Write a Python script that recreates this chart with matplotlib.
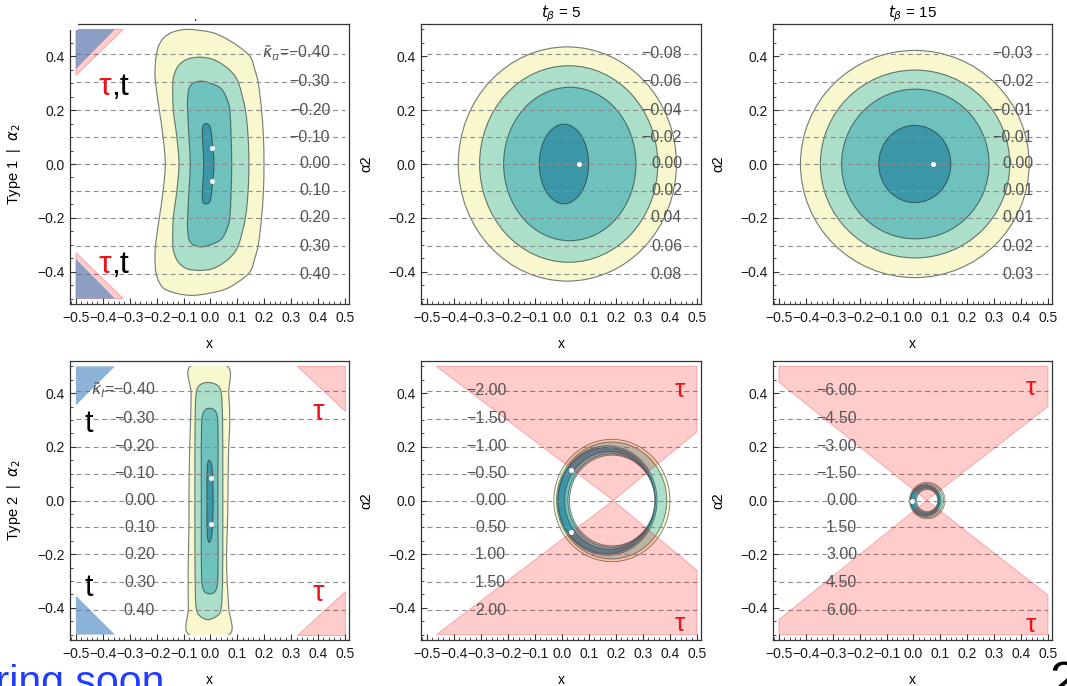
import matplotlib
matplotlib.use("Agg")
import matplotlib.pyplot as plt
import numpy as np
from matplotlib.path import Path
from matplotlib.patches import PathPatch, Ellipse, Polygon, Rectangle
from matplotlib.ticker import FixedLocator, MultipleLocator

plt.rcParams['font.family'] = ['Liberation Sans', 'DejaVu Sans']
plt.rcParams['mathtext.fontset'] = 'dejavusans'

W, H = 1067, 686

# ---- data ----
x_ticks = [-0.5, -0.4, -0.3, -0.2, -0.1, 0.0, 0.1, 0.2, 0.3, 0.4, 0.5]
x_tick_labels = ["\u22120.5", "\u22120.4", "\u22120.3", "\u22120.2", "\u22120.1", "0.0",
                 "0.1", "0.2", "0.3", "0.4", "0.5"]
y_ticks = [-0.4, -0.2, 0.0, 0.2, 0.4]
y_tick_labels = ["\u22120.4", "\u22120.2", "0.0", "0.2", "0.4"]

# dashed lines + coupling labels
level_y = [0.41, 0.305, 0.2, 0.1, 0.0, -0.1, -0.2, -0.305, -0.41]
labels_p1 = ["$\\tilde{\\kappa}_u$=\u22120.40", "\u22120.30", "\u22120.20", "\u22120.10", "0.00",
             "0.10", "0.20", "0.30", "0.40"]
labels_p2 = ["\u22120.08", "\u22120.06", "\u22120.04", "\u22120.02", "0.00", "0.02", "0.04", "0.06", "0.08"]
labels_p3 = ["\u22120.03", "\u22120.02", "\u22120.01", "\u22120.01", "0.00", "0.01", "0.01", "0.02", "0.03"]
labels_p4 = ["$\\tilde{\\kappa}_l$=\u22120.40", "\u22120.30", "\u22120.20", "\u22120.10", "0.00",
             "0.10", "0.20", "0.30", "0.40"]
labels_p5 = ["\u22122.00", "\u22121.50", "\u22121.00", "\u22120.50", "0.00", "0.50", "1.00", "1.50", "2.00"]
labels_p6 = ["\u22126.00", "\u22124.50", "\u22123.00", "\u22121.50", "0.00", "1.50", "3.00", "4.50", "6.00"]

# panel 1 (Type 1, tb=1) contour outlines: y, left x, right x
p1_y = [[0.50, 0.49, 0.47, 0.44, 0.40, 0.35, 0.30, 0.20, 0.10, 0.00, -0.10, -0.20, -0.30, -0.35, -0.40, -0.44, -0.47, -0.488],
        [0.397, 0.39, 0.37, 0.34, 0.30, 0.20, 0.10, 0.0, -0.10, -0.20, -0.30, -0.34, -0.37, -0.39, -0.395],
        [0.308, 0.30, 0.28, 0.24, 0.20, 0.10, 0.0, -0.10, -0.20, -0.24, -0.28, -0.30, -0.308],
        [0.15, 0.14, 0.10, 0.0, -0.10, -0.14, -0.148]]
p1_xl = [[-0.085, -0.14, -0.172, -0.192, -0.202, -0.206, -0.204, -0.19, -0.176, -0.168, -0.176, -0.19, -0.204, -0.206, -0.203, -0.19, -0.16, -0.07],
         [-0.04, -0.085, -0.115, -0.132, -0.14, -0.138, -0.125, -0.117, -0.125, -0.138, -0.14, -0.132, -0.115, -0.085, -0.04],
         [-0.035, -0.065, -0.08, -0.085, -0.085, -0.08, -0.075, -0.08, -0.085, -0.085, -0.08, -0.065, -0.035],
         [-0.017, -0.028, -0.030, -0.025, -0.030, -0.028, -0.017]]
p1_xr = [[-0.085, 0.0, 0.05, 0.10, 0.147, 0.165, 0.178, 0.19, 0.197, 0.199, 0.197, 0.19, 0.178, 0.165, 0.147, 0.10, 0.04, -0.07],
         [-0.04, 0.005, 0.045, 0.08, 0.105, 0.13, 0.14, 0.143, 0.14, 0.13, 0.105, 0.08, 0.045, 0.005, -0.04],
         [-0.035, 0.0, 0.04, 0.062, 0.072, 0.077, 0.079, 0.077, 0.072, 0.062, 0.04, 0.0, -0.035],
         [-0.017, -0.002, 0.005, 0.013, 0.005, -0.002, -0.017]]
p1_dots_x = [0.007, 0.007]
p1_dots_y = [0.06, -0.063]

# panel 4 (Type 2, tb=1) contour outlines
p4_y = [[0.50, 0.40, 0.30, 0.20, 0.10, 0.0, -0.10, -0.20, -0.30, -0.40, -0.50],
        [0.44, 0.43, 0.40, 0.30, 0.10, 0.0, -0.10, -0.30, -0.40, -0.43, -0.444],
        [0.344, 0.33, 0.28, 0.10, 0.0, -0.10, -0.28, -0.335, -0.348],
        [0.15, 0.12, 0.0, -0.12, -0.156]]
p4_xl = [[-0.075, -0.072, -0.074, -0.077, -0.079, -0.080, -0.080, -0.082, -0.083, -0.082, -0.080],
         [-0.01, -0.04, -0.053, -0.057, -0.058, -0.058, -0.058, -0.057, -0.053, -0.04, -0.01],
         [-0.003, -0.025, -0.033, -0.034, -0.034, -0.034, -0.033, -0.025, -0.003],
         [-0.005, -0.012, -0.013, -0.012, -0.005]]
p4_xr = [[0.063, 0.068, 0.072, 0.068, 0.066, 0.065, 0.063, 0.060, 0.062, 0.068, 0.070],
         [-0.01, 0.025, 0.04, 0.045, 0.046, 0.046, 0.046, 0.045, 0.04, 0.025, -0.01],
         [-0.003, 0.02, 0.028, 0.028, 0.028, 0.028, 0.028, 0.02, -0.003],
         [-0.005, 0.006, 0.010, 0.006, -0.005]]
p4_dots_x = [0.003, 0.003]
p4_dots_y = [0.085, -0.086]

# panels 2 and 3: elliptic contours (centre x, half width, half height)
p2_cx = [0.02, 0.025, 0.029, 0.0075]
p2_hw = [0.404, 0.33, 0.245, 0.0915]
p2_hh = [0.435, 0.365, 0.285, 0.148]
p2_dots_x, p2_dots_y = [0.063], [0.0]
p3_cx = [0.005, 0.006, 0.007, 0.005]
p3_hw = [0.425, 0.352, 0.274, 0.134]
p3_hh = [0.422, 0.349, 0.278, 0.1435]
p3_dots_x, p3_dots_y = [0.074], [0.0]

# panels 5 and 6: thin rings, bands from outside in
ring_colors_idx = [0, 1, 2, 3, 2, 1, 4]
p5_cx = [0.185, 0.184, 0.168, 0.166, 0.176, 0.182, 0.186]
p5_hw = [0.215, 0.204, 0.184, 0.180, 0.166, 0.160, 0.158]
p5_hh = [0.228, 0.218, 0.204, 0.198, 0.182, 0.174, 0.169]
p5_dots_x, p5_dots_y = [0.033, 0.033], [0.115, -0.117]
p6_cx = [0.051, 0.050, 0.046, 0.044, 0.048, 0.050, 0.051]
p6_hw = [0.066, 0.062, 0.057, 0.054, 0.046, 0.042, 0.039]
p6_hh = [0.068, 0.064, 0.059, 0.056, 0.048, 0.044, 0.041]
p6_dots_x, p6_dots_y = [-0.006], [0.0]

# excluded regions (tau = pink, top = blue)
p1_pink = [([-0.5, -0.324, -0.5], [0.5, 0.5, 0.329]), ([-0.5, -0.324, -0.5], [-0.5, -0.5, -0.329])]
p1_blue = [([-0.5, -0.355, -0.5], [0.5, 0.5, 0.353]), ([-0.5, -0.355, -0.5], [-0.5, -0.5, -0.353])]
p4_pink = [([0.32, 0.5, 0.5], [0.5, 0.5, 0.335]), ([0.32, 0.5, 0.5], [-0.5, -0.5, -0.338])]
p4_blue = [([-0.5, -0.355, -0.5], [0.5, 0.5, 0.355]), ([-0.5, -0.355, -0.5], [-0.5, -0.5, -0.355])]
p5_pink = [([-0.465, 0.5, 0.5, 0.19], [0.5, 0.5, 0.256, 0.0]),
           ([-0.465, 0.5, 0.5, 0.19], [-0.5, -0.5, -0.26, 0.0])]
p6_pink = [([-0.5, 0.5, 0.5, 0.05, -0.5], [0.5, 0.5, 0.35, 0.0, 0.441]),
           ([-0.5, 0.5, 0.5, 0.05, -0.5], [-0.5, -0.5, -0.3525, 0.0, -0.444])]

fill_colors = ['#f9f7cd', '#acdfca', '#6fc1be', '#3b97a8', 'white']
edge_col = (0.15, 0.22, 0.22, 0.65)
pink_face = (1.0, 0.0, 0.0, 0.2)
pink_edge = (0.9, 0.2, 0.2, 0.3)
blue_face = (0.25, 0.5, 0.75, 0.6)
red_txt = '#e8141a'


def px_rect(l, t, r, b):
    return [l / W, 1 - b / H, (r - l) / W, (b - t) / H]


def smooth_outline(ax, ys, xl, xr, color, clip=None):
    left = list(zip(xl, ys))
    right = list(zip(xr, ys))[::-1]
    if xl[0] == xr[0]:
        right = right[:-1]
    if xl[-1] == xr[-1]:
        right = right[1:]
    P = np.array(left + right)
    n = len(P)
    verts = [P[0]]
    codes = [Path.MOVETO]
    for i in range(n):
        p0, p1, p2, p3 = P[i - 1], P[i], P[(i + 1) % n], P[(i + 2) % n]
        verts += [p1 + (p2 - p0) / 6, p2 - (p3 - p1) / 6, p2]
        codes += [Path.CURVE4] * 3
    patch = PathPatch(Path(verts, codes), facecolor=color, edgecolor=edge_col, lw=0.8, zorder=1)
    ax.add_patch(patch)
    if clip is not None:
        patch.set_clip_path(clip)


def ellipses(ax, cx, hw, hh, colors, lw=0.8):
    for c, w, h, col in zip(cx, hw, hh, colors):
        ax.add_patch(Ellipse((c, 0.0), 2 * w, 2 * h, facecolor=col, edgecolor=edge_col, lw=lw, zorder=1))


def regions(ax, polys, face, edge=None):
    for xs, ys in polys:
        ax.add_patch(Polygon(np.column_stack([xs, ys]), closed=True, facecolor=face,
                             edgecolor=edge if edge else 'none', lw=0.8, zorder=3))


def levels(ax, labels, x_lab):
    for y, lab in zip(level_y, labels):
        ax.plot([-0.5, 0.5], [y, y], color='0.55', lw=0.8, ls=(0, (4.5, 3.2)), zorder=2)
        ax.text(x_lab, y, lab, ha='right', va='center', fontsize=11.5, color='#555555', zorder=4)


def dots(ax, xs, ys):
    ax.plot(xs, ys, 'o', color='white', ms=3.6, mec='none', zorder=5)


def style(ax, ylab):
    ax.set_xlim(-0.522, 0.515)
    ax.set_ylim(-0.52, 0.52)
    ax.xaxis.set_major_locator(FixedLocator(x_ticks))
    ax.set_xticklabels(x_tick_labels)
    ax.yaxis.set_major_locator(FixedLocator(y_ticks))
    ax.set_yticklabels(y_tick_labels)
    ax.xaxis.set_minor_locator(MultipleLocator(0.02))
    ax.yaxis.set_minor_locator(MultipleLocator(0.05))
    ax.tick_params(which='both', direction='in', color='#333333', labelsize=10, labelcolor='#1a1a1a',
                   top=False, right=False)
    ax.tick_params(which='major', length=4, width=0.8)
    ax.tick_params(which='minor', length=2.2, width=0.6)
    ax.tick_params(axis='x', pad=5)
    ax.tick_params(axis='y', pad=4)
    for s in ax.spines.values():
        s.set_color('#333333')
        s.set_linewidth(0.9)
    ax.set_xlabel('x', fontsize=10, labelpad=9)
    ax.set_ylabel(ylab, fontsize=10.5)
    ax.yaxis.set_label_coords(-0.17, 0.5)


fig = plt.figure(figsize=(W / 100, H / 100), dpi=100)
fig.patch.set_facecolor('white')

ax1 = fig.add_axes(px_rect(70, 24, 349, 304))
ax2 = fig.add_axes(px_rect(421, 24, 701, 304))
ax3 = fig.add_axes(px_rect(773, 24, 1052, 304))
ax4 = fig.add_axes(px_rect(70, 361, 349, 640))
ax5 = fig.add_axes(px_rect(421, 361, 701, 640))
ax6 = fig.add_axes(px_rect(773, 361, 1052, 640))

# panel 1
for ys, xl, xr, col in zip(p1_y, p1_xl, p1_xr, fill_colors):
    smooth_outline(ax1, ys, xl, xr, col)
levels(ax1, labels_p1, 0.445)
regions(ax1, p1_pink, pink_face, pink_edge)
regions(ax1, p1_blue, blue_face)
dots(ax1, p1_dots_x, p1_dots_y)
for yb in [0.255, -0.406]:
    ax1.text(-0.37, yb, "\u03c4", color=red_txt, fontsize=23, ha='right', va='baseline', zorder=6)
    ax1.text(-0.37, yb, ",t", color='black', fontsize=23, ha='left', va='baseline', zorder=6)
style(ax1, "Type 1  |  $\\alpha_2$")
ax1.set_title("$t_\\beta$ = 1", fontsize=11, pad=4)

# panel 2
ellipses(ax2, p2_cx, p2_hw, p2_hh, fill_colors[:4])
levels(ax2, labels_p2, 0.445)
dots(ax2, p2_dots_x, p2_dots_y)
style(ax2, "\u03b12")
ax2.set_title("$t_\\beta$ = 5", fontsize=11, pad=4)

# panel 3
ellipses(ax3, p3_cx, p3_hw, p3_hh, fill_colors[:4])
levels(ax3, labels_p3, 0.445)
dots(ax3, p3_dots_x, p3_dots_y)
style(ax3, "\u03b12")
ax3.set_title("$t_\\beta$ = 15", fontsize=11, pad=4)

# panel 4
box4 = Rectangle((-0.5, -0.5), 1.0, 1.0, transform=ax4.transData)
for k, (ys, xl, xr, col) in enumerate(zip(p4_y, p4_xl, p4_xr, fill_colors)):
    smooth_outline(ax4, ys, xl, xr, col, clip=box4 if k == 0 else None)
levels(ax4, labels_p4, -0.206)
regions(ax4, p4_pink, pink_face, pink_edge)
regions(ax4, p4_blue, blue_face)
dots(ax4, p4_dots_x, p4_dots_y)
for yb in [0.256, -0.356]:
    ax4.text(-0.454, yb, "t", color='black', fontsize=22, ha='center', va='baseline', zorder=6)
for yb in [0.30, -0.375]:
    ax4.text(0.40, yb, "\u03c4", color=red_txt, fontsize=21, ha='center', va='baseline', zorder=6)
style(ax4, "Type 2  |  $\\alpha_2$")

# panel 5
ellipses(ax5, p5_cx, p5_hw, p5_hh, [fill_colors[i] for i in ring_colors_idx], lw=0.6)
levels(ax5, labels_p5, -0.206)
regions(ax5, p5_pink, pink_face, pink_edge)
dots(ax5, p5_dots_x, p5_dots_y)
for yb in [0.3875, -0.487]:
    ax5.text(0.435, yb, "\u03c4", color=red_txt, fontsize=19, ha='center', va='baseline', zorder=6)
style(ax5, "\u03b12")

# panel 6
ellipses(ax6, p6_cx, p6_hw, p6_hh, [fill_colors[i] for i in ring_colors_idx], lw=0.5)
levels(ax6, labels_p6, -0.209)
regions(ax6, p6_pink, pink_face, pink_edge)
dots(ax6, p6_dots_x, p6_dots_y)
for yb in [0.394, -0.49]:
    ax6.text(0.435, yb, "\u03c4", color=red_txt, fontsize=19, ha='center', va='baseline', zorder=6)
style(ax6, "\u03b12")

# slide overlays: title of panel 1 mostly hidden, corner cut
fig.patches.append(Rectangle((60 / W, 1 - 19 / H), 292 / W, 19 / H, transform=fig.transFigure,
                             facecolor='white', edgecolor='none', zorder=10))
fig.patches.append(Rectangle((0, 1 - 30 / H), 78 / W, 30 / H, transform=fig.transFigure,
                             facecolor='white', edgecolor='none', zorder=10))

# slide footer text, cut by the lower edge as in the source
fig.text(164 / W, 1 - 694 / H, "Appearing soon", color='#1f3cff', fontsize=29.5, ha='right', va='baseline')
fig.text(1049 / W, 1 - 697 / H, "2", color='black', fontsize=36, ha='left', va='baseline')

fig.savefig("out.png", dpi=100)
